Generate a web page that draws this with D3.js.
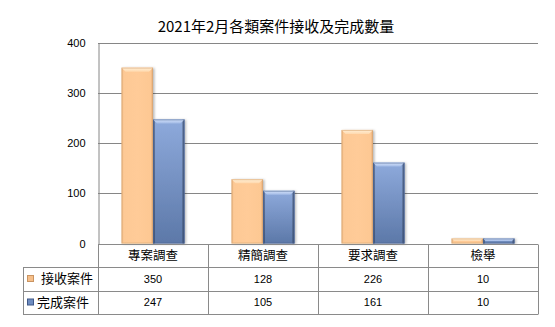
<!DOCTYPE html>
<html>
<head>
<meta charset="utf-8">
<script src="https://cdn.jsdelivr.net/npm/d3@7/dist/d3.min.js"></script>
<style>
  html, body { margin: 0; padding: 0; background: #fff; }
  svg { display: block; }
  text { font-family: "Liberation Sans", "Noto Sans CJK TC", sans-serif; fill: #000; }
  .cjk { font-family: "Noto Sans CJK TC", "Noto Sans CJK SC", sans-serif; }
</style>
</head>
<body>
<svg id="chart" width="555" height="327"></svg>
<script>
// Chart data
const title = "2021年2月各類案件接收及完成數量";
const categories = ["專案調查", "精簡調查", "要求調查", "檢舉"];
const seriesNames = ["接收案件", "完成案件"];
const received = [350, 128, 226, 10];
const completed = [247, 105, 161, 10];
const yTicks = [0, 100, 200, 300, 400];

const seriesValues = [received, completed];

const svg = d3.select("#chart");
const defs = svg.append("defs");

// Plot geometry
const plotLeft = 98, plotRight = 538, plotTop = 42.5, plotBottom = 243.5;
const tableLeft = 23, rowH = 23.5;

const x0 = d3.scaleBand().domain(categories).range([plotLeft, plotRight])
  .paddingInner(0.428).paddingOuter(0.214);
const x1 = d3.scaleBand().domain(seriesNames).range([0, x0.bandwidth()]).padding(0);
const y = d3.scaleLinear().domain([0, 400]).range([plotBottom, plotTop]);

// Gradients for the bevelled bars
function hGrad(id, stops) {
  const g = defs.append("linearGradient").attr("id", id)
    .attr("x1", "0").attr("y1", "0").attr("x2", "1").attr("y2", "0");
  stops.forEach(s => g.append("stop").attr("offset", s[0]).attr("stop-color", s[1]));
}
function vGrad(id, stops) {
  const g = defs.append("linearGradient").attr("id", id)
    .attr("x1", "0").attr("y1", "0").attr("x2", "0").attr("y2", "1");
  stops.forEach(s => g.append("stop").attr("offset", s[0]).attr("stop-color", s[1]));
}
hGrad("orangeBody", [[0, "#e9b27e"], [0.07, "#fdc995"], [0.5, "#ffcb98"], [0.93, "#fdc893"], [1, "#dca370"]]);
vGrad("blueBody", [[0, "#8eaadc"], [1, "#5c78a8"]]);
hGrad("blueEdge", [[0, "#4e6796"], [0.08, "rgba(0,0,0,0)"], [0.92, "rgba(0,0,0,0)"], [1, "#43598a"]]);
vGrad("orangeTop", [[0, "#fff0d8"], [1, "#ffd9ae"]]);
vGrad("blueTop", [[0, "#d4e2fb"], [1, "#a3bbe6"]]);

const filt = defs.append("filter").attr("id", "shadow")
  .attr("x", "-20%").attr("y", "-10%").attr("width", "150%").attr("height", "120%");
filt.append("feDropShadow").attr("dx", 1.5).attr("dy", 0.5).attr("stdDeviation", 1.2)
  .attr("flood-color", "#000").attr("flood-opacity", 0.28);

// Title
svg.append("text").attr("class", "cjk")
  .attr("x", 276).attr("y", 32).attr("text-anchor", "middle")
  .attr("font-size", 15).text(title);

// Gridlines and value axis
const grid = svg.append("g");
grid.selectAll("line").data(yTicks.filter(d => d > 0)).join("line")
  .attr("x1", plotLeft).attr("x2", plotRight)
  .attr("y1", d => Math.round(y(d)) + 0.5).attr("y2", d => Math.round(y(d)) + 0.5)
  .attr("stroke", "#868686").attr("stroke-width", 1);

const yAxis = d3.axisLeft(y).tickValues(yTicks).tickSize(0).tickPadding(13);
const ya = svg.append("g").attr("transform", `translate(${plotLeft + 0.5},0)`).call(yAxis);
ya.select(".domain").attr("stroke", "#868686");
ya.selectAll("text").attr("font-size", 11).attr("font-family", "Liberation Sans, sans-serif")
  .attr("dy", "0.32em");

// Bars
const bars = svg.append("g");
const seriesStyle = [
  { body: "url(#orangeBody)", top: "url(#orangeTop)", edge: null, stroke: "#d9a673" },
  { body: "url(#blueBody)", top: "url(#blueTop)", edge: "url(#blueEdge)", stroke: "#4d6693" }
];
categories.forEach((cat, ci) => {
  seriesNames.forEach((sn, si) => {
    const v = seriesValues[si][ci];
    const bx = x0(cat) + x1(sn);
    const bw = x1.bandwidth();
    const by = y(v);
    const bh = y(0) - by;
    const st = seriesStyle[si];
    const g = bars.append("g");
    g.append("rect").attr("x", bx).attr("y", by).attr("width", bw).attr("height", bh)
      .attr("fill", st.body).attr("filter", "url(#shadow)");
    if (st.edge) {
      g.append("rect").attr("x", bx).attr("y", by).attr("width", bw).attr("height", bh)
        .attr("fill", st.edge);
    }
    const bev = Math.min(4, bh / 2);
    g.append("polygon")
      .attr("points", [[bx, by], [bx + bw, by], [bx + bw - bev, by + bev], [bx + bev, by + bev]].join(" "))
      .attr("fill", st.top);
    g.append("rect").attr("x", bx + 0.5).attr("y", by + 0.5).attr("width", bw - 1).attr("height", Math.max(0, bh - 1))
      .attr("fill", "none").attr("stroke", st.stroke).attr("stroke-opacity", 0.6).attr("stroke-width", 1);
  });
});

// Data table beneath the plot
const tbl = svg.append("g");
const lineColor = "#8a8a8a";
const r0 = plotBottom, r1 = r0 + rowH, r2 = r1 + rowH, r3 = r2 + rowH;
const hl = (x1_, x2_, yy) => tbl.append("line").attr("x1", x1_).attr("x2", x2_)
  .attr("y1", Math.round(yy) + 0.5).attr("y2", Math.round(yy) + 0.5).attr("stroke", lineColor);
const vl = (xx, y1_, y2_) => tbl.append("line").attr("x1", Math.round(xx) + 0.5).attr("x2", Math.round(xx) + 0.5)
  .attr("y1", Math.round(y1_) + 0.5).attr("y2", Math.round(y2_) + 0.5).attr("stroke", lineColor);

hl(plotLeft, plotRight, r0);
hl(tableLeft, plotRight, r1);
hl(tableLeft, plotRight, r2);
hl(tableLeft, plotRight, r3);
vl(tableLeft, r1, r3);
const bounds = categories.map(c => x0(c) - x0.step() * x0.paddingOuter());
bounds.push(plotRight);
bounds.forEach(b => vl(b, r0, r3));

// Category labels
tbl.selectAll("text.cat").data(categories).join("text").attr("class", "cjk cat")
  .attr("x", d => x0(d) + x0.bandwidth() / 2).attr("y", r0 + rowH / 2)
  .attr("dy", "0.36em").attr("text-anchor", "middle").attr("font-size", 12.5)
  .text(d => d);

// Series rows: legend key, name and values
const keyFillColor = ["#f6bf8a", "#6e8cc0"];
const keyStroke = ["#c99462", "#3f5888"];
seriesNames.forEach((sn, si) => {
  const ry = r1 + si * rowH;
  tbl.append("rect").attr("x", 27.5).attr("y", ry + 8.5).attr("width", 6).attr("height", 6)
    .attr("fill", keyFillColor[si]).attr("stroke", keyStroke[si]).attr("stroke-width", 1);
  tbl.append("text").attr("class", "cjk").attr("x", si === 0 ? 41 : 37).attr("y", ry + rowH / 2)
    .attr("dy", "0.36em").attr("font-size", 13).text(sn);
  tbl.selectAll(null).data(seriesValues[si]).join("text")
    .attr("x", (d, i) => x0(categories[i]) + x0.bandwidth() / 2).attr("y", ry + rowH / 2)
    .attr("dy", "0.36em").attr("text-anchor", "middle").attr("font-size", 11)
    .attr("font-family", "DejaVu Sans, sans-serif")
    .text(d => d);
});
</script>
</body>
</html>
